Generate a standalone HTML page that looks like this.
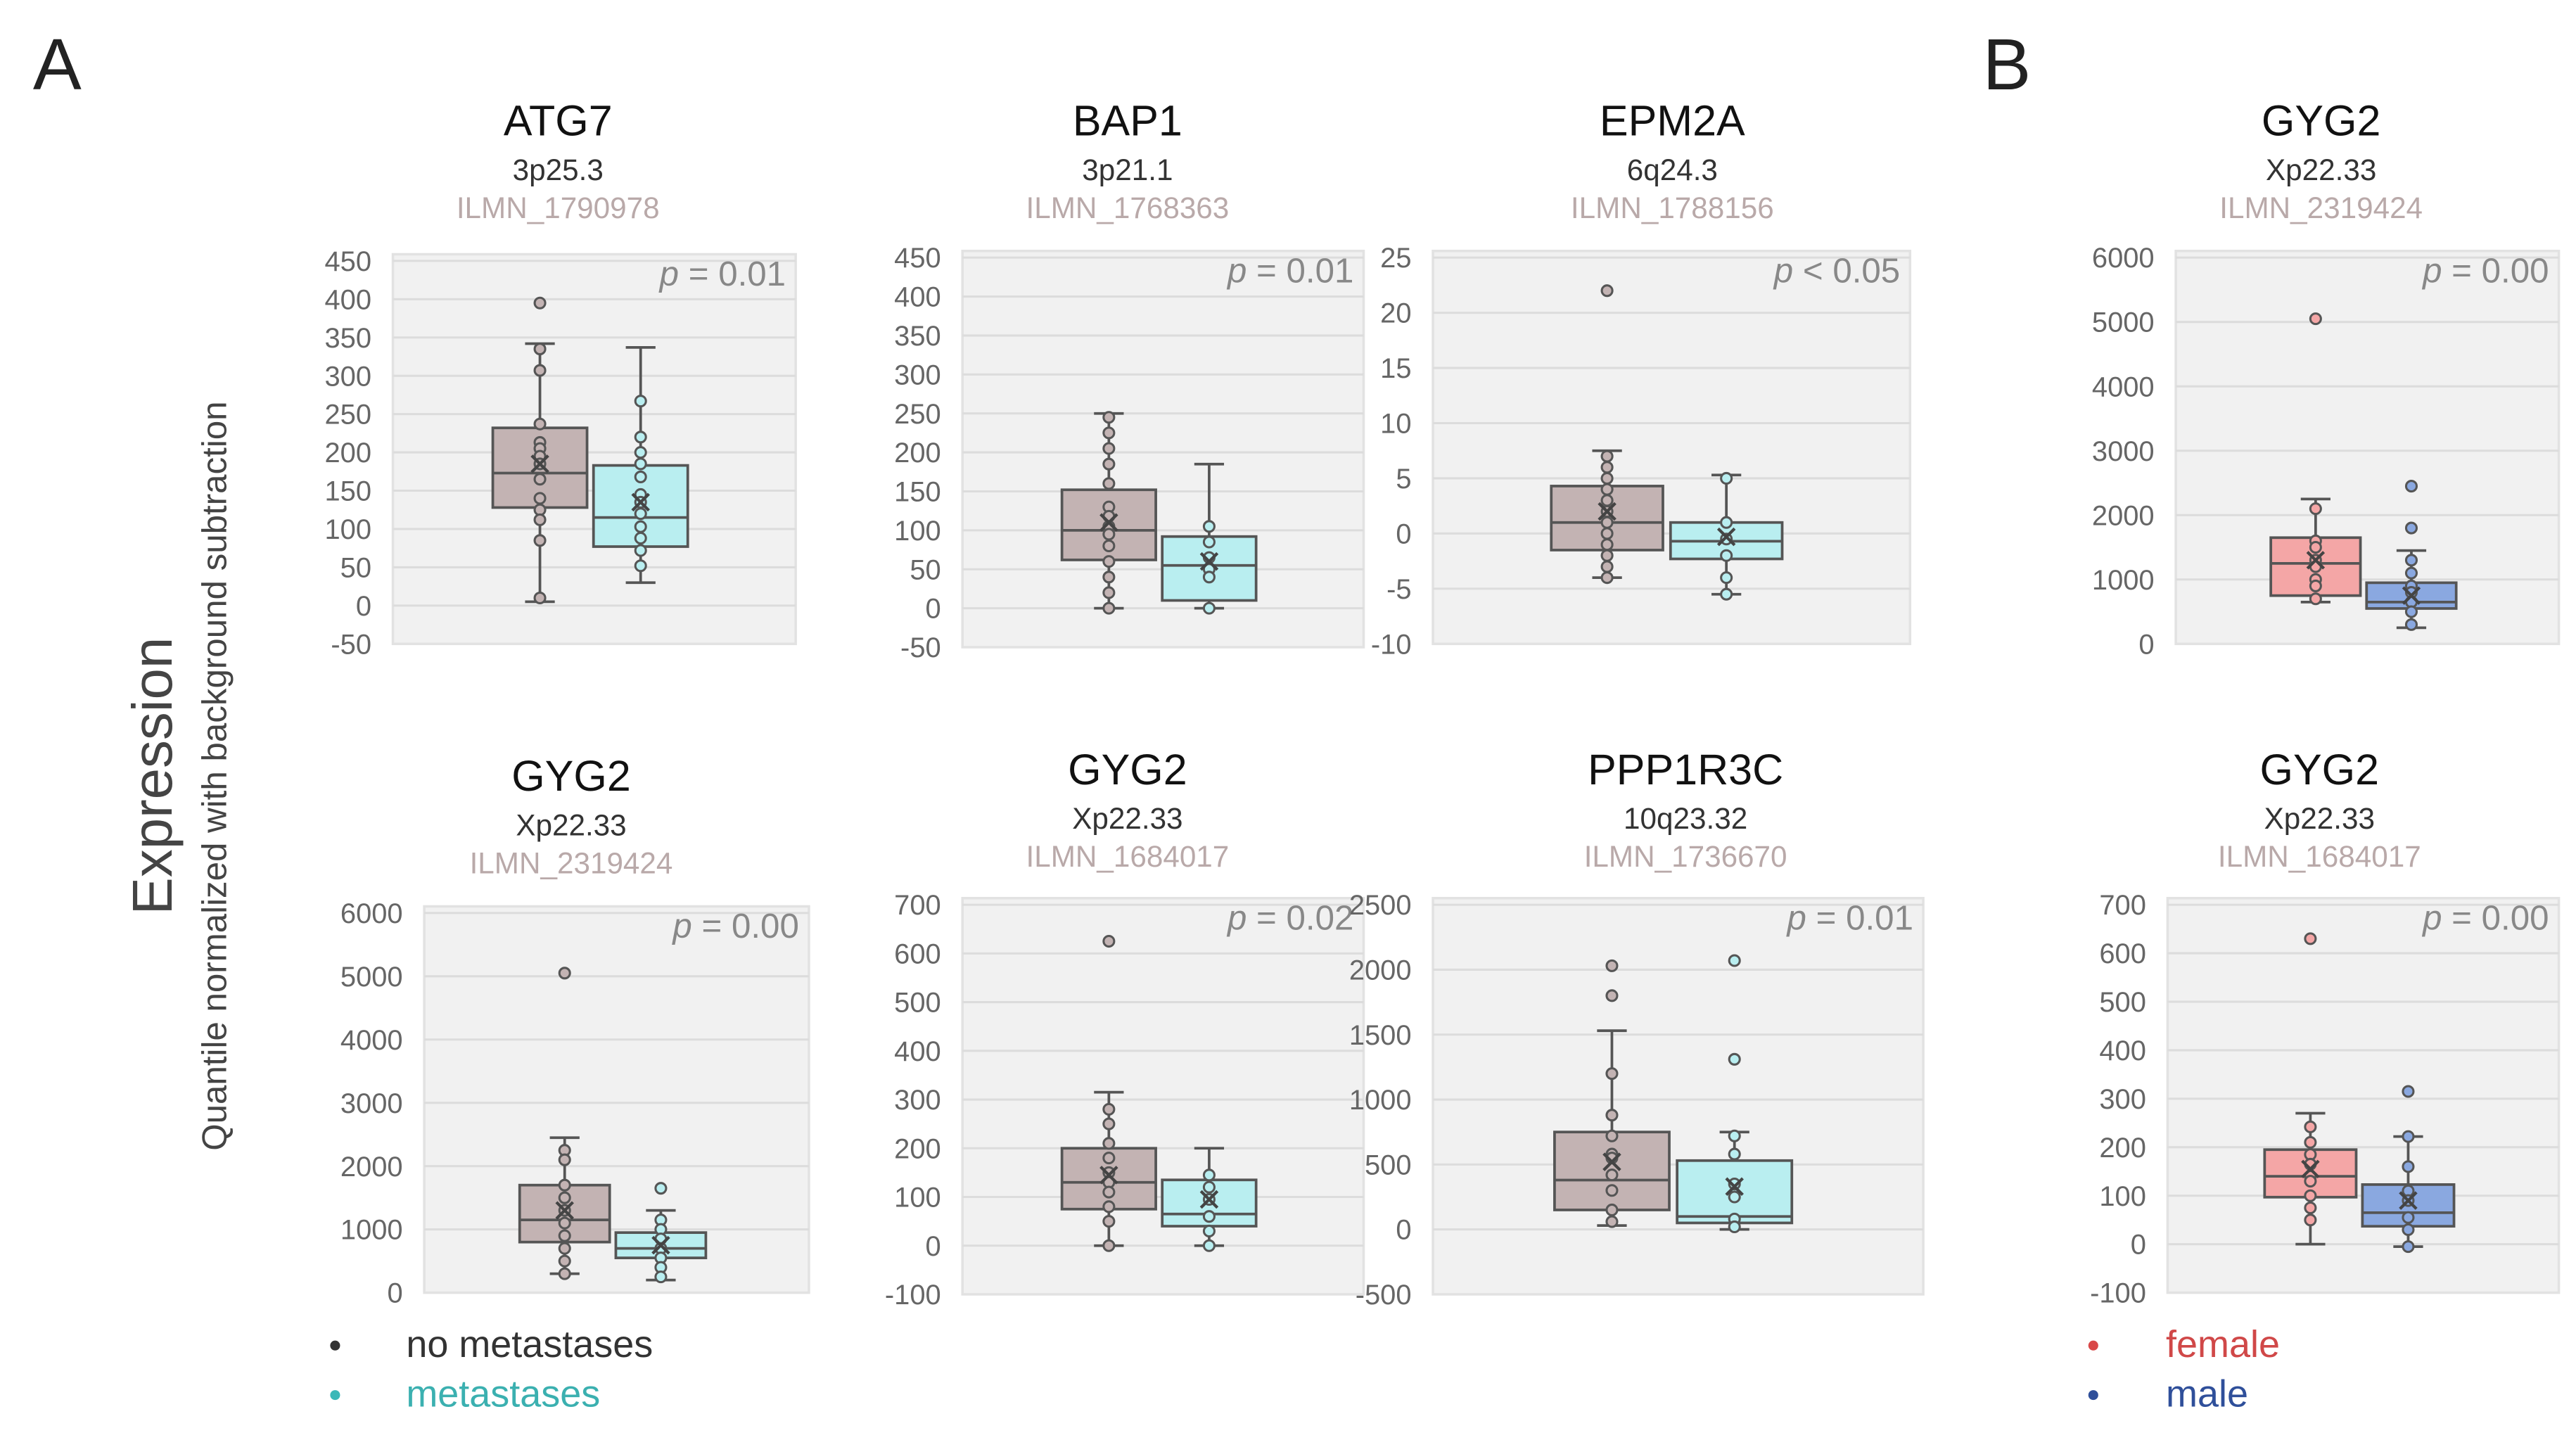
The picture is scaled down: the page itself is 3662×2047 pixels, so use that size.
<!DOCTYPE html>
<html><head><meta charset="utf-8"><style>
html,body{margin:0;padding:0;background:#fff}
svg{display:block;font-family:"Liberation Sans",sans-serif}
</style></head><body>
<svg id="fig" width="3662" height="2047" viewBox="0 0 1560.4 872.2" xmlns="http://www.w3.org/2000/svg">
<rect x="0" y="0" width="1560.4" height="872.2" fill="#fff"/>
<text x="20" y="54" font-size="44" fill="#222">A</text>
<text x="1201" y="54" font-size="44" fill="#222">B</text>
<text transform="translate(104,470) rotate(-90)" text-anchor="middle" font-size="34" fill="#444">Expression</text>
<text transform="translate(137,470) rotate(-90)" text-anchor="middle" font-size="21" fill="#444">Quantile normalized with background subtraction</text>
<g>
<circle cx="203" cy="815" r="3" fill="#333"/><text x="246" y="822" font-size="23" fill="#333">no metastases</text>
<circle cx="203" cy="845" r="3" fill="#3bb8b8"/><text x="246" y="852" font-size="23" fill="#3bb0b0">metastases</text>
</g>
<g>
<circle cx="1268" cy="815" r="3" fill="#d94848"/><text x="1312" y="822" font-size="23" fill="#d04848">female</text>
<circle cx="1268" cy="845" r="3" fill="#2f4f9a"/><text x="1312" y="852" font-size="23" fill="#2f4f9a">male</text>
</g>
</svg>
<script>
const panelNames = ["atg7","bap1","epm2a","gyg2-b1","gyg2-a1","gyg2-a2","ppp1r3c","gyg2-b2"];
const genes = ["ATG7","BAP1","EPM2A","GYG2","GYG2","GYG2","PPP1R3C","GYG2"];
const bands = ["3p25.3","3p21.1","6q24.3","Xp22.33","Xp22.33","Xp22.33","10q23.32","Xp22.33"];
const probes = ["ILMN_1790978","ILMN_1768363","ILMN_1788156","ILMN_2319424","ILMN_2319424","ILMN_1684017","ILMN_1736670","ILMN_1684017"];
const pTexts = ["= 0.01","= 0.01","< 0.05","= 0.00","= 0.00","= 0.02","= 0.01","= 0.00"];
const yMins = [-50,-50,-10,0,0,-100,-500,-100];
const yMaxs = [450,450,25,6000,6000,700,2500,700];
const yStep = [50,50,5,1000,1000,100,500,100];
// group stats: [wlow, q1, median, q3, whigh, mean]
const stats1 = [
 [5,128,173,232,342,185],[0,62,100,152,250,110],[-4,-1.5,1,4.3,7.5,2],[650,750,1250,1650,2250,1300],
 [300,800,1150,1700,2450,1300],[0,75,130,200,315,145],[30,150,380,750,1530,520],[0,97,140,195,270,155]];
const stats2 = [
 [30,77,115,183,337,135],[0,10,55,92,185,60],[-5.5,-2.3,-0.7,1,5.3,-0.3],[250,550,650,950,1450,750],
 [200,550,700,950,1300,750],[0,40,65,135,200,95],[0,50,100,530,750,330],[-5,37,65,123,222,90]];
const points1 = [
 [395,335,307,237,213,205,195,185,165,140,125,112,85,10],
 [245,225,205,185,160,130,118,105,95,80,60,40,20,0],
 [22,7,6,5,4,3,2,1,0,-1,-2,-3,-4],
 [5050,2100,1600,1500,1300,1200,1000,900,700],
 [5050,2250,2100,1700,1500,1300,1100,900,700,500,300],
 [625,280,250,210,180,150,130,110,80,50,0],
 [2030,1800,1200,880,720,580,550,420,300,150,60],
 [630,242,210,185,165,140,130,100,75,50]];
const points2 = [
 [267,220,200,185,168,145,135,120,103,88,72,52],
 [105,85,65,50,40,0],
 [5,1,-0.5,-2,-4,-5.5],
 [2450,1800,1300,1100,900,800,650,500,300],
 [1650,1150,1000,850,700,550,400,250],
 [145,120,95,60,30,0],
 [2070,1310,720,580,350,250,80,20],
 [315,222,160,110,90,55,30,-5]];

const layout = [
 [238,482,158,390,338,73],[583,826,156,392,683,73],[868,1157,156,390,1013,73],[1318,1550,156,390,1406,73],
 [257,490,553,783,346,470],[583,826,548,784,683,466],[868,1165,548,784,1021,466],[1313,1550,548,783,1405,466]];
const fills1 = ["#c3b3b3","#c3b3b3","#c3b3b3","#f4a6a6","#c3b3b3","#c3b3b3","#c3b3b3","#f4a6a6"];
const fills2 = ["#b9eef0","#b9eef0","#b9eef0","#8aa8e0","#b9eef0","#b9eef0","#b9eef0","#8aa8e0"];

const NS="http://www.w3.org/2000/svg";
const svg=document.getElementById('fig');
function mk(tag,attrs,parent){const e=document.createElementNS(NS,tag);for(const k in attrs)e.setAttribute(k,attrs[k]);(parent||svg).appendChild(e);return e;}

for(let i=0;i<8;i++){
  const [L,R,T,B,cx,ty]=layout[i];
  const g=mk('g',{});
  
  
  const y=v=>B-(v-yMins[i])/(yMaxs[i]-yMins[i])*(B-T);
  const t1=mk('text',{x:cx,y:ty+9,'text-anchor':'middle','font-size':26,fill:'#111'},g);t1.textContent=genes[i];
  
  
  const t2=mk('text',{x:cx,y:ty+36,'text-anchor':'middle','font-size':18,fill:'#333'},g);t2.textContent=bands[i];
  
  
  const t3=mk('text',{x:cx,y:ty+59,'text-anchor':'middle','font-size':18,fill:'#b9a9a9'},g);t3.textContent=probes[i];
  
  
  const bg=mk('rect',{x:L,y:T-4,width:R-L,height:B-T+4,fill:'#f1f1f1',stroke:'#e2e2e2','stroke-width':1.5},g);
  
  
  for(let v=yMins[i];v<=yMaxs[i]+1e-9;v+=yStep[i]){
    const yy=y(v);
    if(v>yMins[i]) mk('line',{x1:L,x2:R,y1:yy,y2:yy,stroke:'#dcdcdc','stroke-width':1.3},g);
    const tl=mk('text',{x:L-13,y:yy+6,'text-anchor':'end','font-size':17,fill:'#666'},g);
    tl.textContent=String(v);
    
    
  }
  const pt=mk('text',{x:R-6,y:T+15,'text-anchor':'end','font-size':21,fill:'#888'},g);
  pt.innerHTML='<tspan font-style="italic">p</tspan> '+pTexts[i];
  
  
  const W=R-L, bw=W*0.234;
  [[stats1[i],points1[i],fills1[i],0.365],[stats2[i],points2[i],fills2[i],0.615]].forEach(([s,pts,fill,f],k)=>{
    const bx=L+W*f;
    const bg2=mk('g',{},g);
    
    
    const st={stroke:'#555','stroke-width':1.6,fill:'none'};
    mk('line',Object.assign({x1:bx,x2:bx,y1:y(s[0]),y2:y(s[4])},st),bg2);
    mk('line',Object.assign({x1:bx-9,x2:bx+9,y1:y(s[0]),y2:y(s[0])},st),bg2);
    mk('line',Object.assign({x1:bx-9,x2:bx+9,y1:y(s[4]),y2:y(s[4])},st),bg2);
    mk('rect',{x:bx-bw/2,y:y(s[3]),width:bw,height:y(s[1])-y(s[3]),fill:fill,stroke:'#555','stroke-width':1.6},bg2);
    mk('line',Object.assign({x1:bx-bw/2,x2:bx+bw/2,y1:y(s[2]),y2:y(s[2])},st),bg2);
    pts.forEach(v=>{
      const c=mk('circle',{cx:bx,cy:y(v),r:3.2,fill:fill,stroke:'#555','stroke-width':1.3},bg2);
      
      
    });
    const my=y(s[5]);
    mk('path',{d:`M${bx-5},${my-5}L${bx+5},${my+5}M${bx-5},${my+5}L${bx+5},${my-5}`,stroke:'#444','stroke-width':1.8},bg2);
  });
}
</script>
</body></html>
